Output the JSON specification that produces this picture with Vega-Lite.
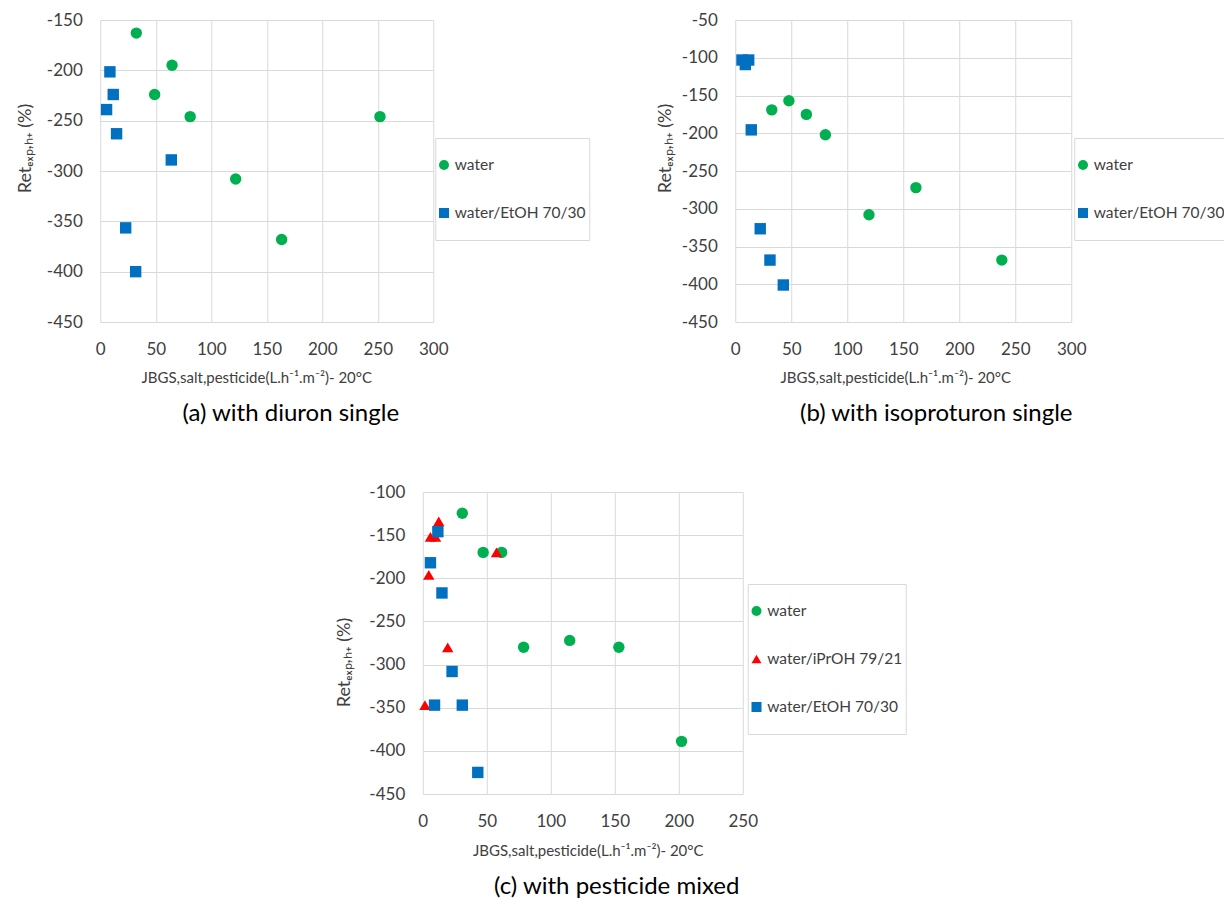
{
  "$schema": "https://vega.github.io/schema/vega-lite/v6.json",
  "background": "white",
  "padding": {"left": 16, "top": 11, "right": 0, "bottom": 0},
  "center": true,
  "spacing": 57,
  "config": {
    "font": "Lato",
    "view": {"stroke": null},
    "axis": {
      "labelFont": "Lato", "labelFontSize": 17, "labelColor": "#404040",
      "labelExpr": "toString(datum.value)", "labelFlush": false, "labelOverlap": false,
      "grid": true, "gridColor": "#D9D9D9", "gridWidth": 1,
      "domain": false, "ticks": false,
      "titleFont": "Lato", "titleFontWeight": "normal", "titleColor": "#404040"
    },
    "axisX": {"labelPadding": 19},
    "axisY": {"labelPadding": 18},
    "legend": {
      "orient": "none", "title": null, "padding": 3, "clipHeight": 48, "rowPadding": 0,
      "symbolSize": 100, "symbolOffset": -2, "labelOffset": 3,
      "labelFont": "Lato", "labelFontSize": 15.5, "labelColor": "#404040",
      "strokeColor": "#D9D9D9", "symbolStrokeWidth": 0
    },
    "title": {"font": "Lato", "fontSize": 24, "fontWeight": "normal", "color": "#000000", "orient": "bottom", "anchor": "middle", "offset": 17}
  },
  "resolve": {
    "scale": {"color": "independent", "shape": "independent", "x": "independent", "y": "independent"},
    "legend": {"color": "independent", "shape": "independent"}
  },
  "vconcat": [
    {
      "hconcat": [
        {
          "width": 333, "height": 302,
          "title": {"text": "(a) with diuron single", "dx": 24},
          "data": {"values": [
            {"J": 32.5, "Ret": -163, "series": "water"},
            {"J": 64.7, "Ret": -195, "series": "water"},
            {"J": 49, "Ret": -224, "series": "water"},
            {"J": 81, "Ret": -246, "series": "water"},
            {"J": 252, "Ret": -246, "series": "water"},
            {"J": 122, "Ret": -308, "series": "water"},
            {"J": 163.4, "Ret": -368, "series": "water"},
            {"J": 8.7, "Ret": -201.5, "series": "water/EtOH 70/30"},
            {"J": 11.7, "Ret": -224, "series": "water/EtOH 70/30"},
            {"J": 5.7, "Ret": -239, "series": "water/EtOH 70/30"},
            {"J": 14.7, "Ret": -263, "series": "water/EtOH 70/30"},
            {"J": 64, "Ret": -289, "series": "water/EtOH 70/30"},
            {"J": 22.9, "Ret": -356.5, "series": "water/EtOH 70/30"},
            {"J": 31.9, "Ret": -400, "series": "water/EtOH 70/30"}
          ]},
          "mark": {"type": "point", "filled": true, "opacity": 1, "size": 130},
          "encoding": {
            "x": {"field": "J", "type": "quantitative",
              "scale": {"domain": [0, 300], "nice": false, "zero": false},
              "axis": {"values": [0, 50, 100, 150, 200, 250, 300], "title": "JBGS,salt,pesticide(L.h⁻¹.m⁻²)- 20°C",
                "titleFontSize": 15, "titleX": 156, "titleY": 55, "titleBaseline": "middle", "titleAlign": "center"}},
            "y": {"field": "Ret", "type": "quantitative",
              "scale": {"domain": [-450, -150], "nice": false, "zero": false},
              "axis": {"values": [-450, -400, -350, -300, -250, -200, -150], "title": "Retₑₓₚ,ₕ₊ (%)",
                "titleFontSize": 18, "titleX": -75, "titleY": 128, "titleAngle": -90, "titleBaseline": "middle", "titleAlign": "center"}},
            "color": {"field": "series", "type": "nominal",
              "scale": {"domain": ["water", "water/EtOH 70/30"], "range": ["#00B050", "#0070C0"]},
              "legend": {"legendX": 335, "legendY": 118}},
            "shape": {"field": "series", "type": "nominal",
              "scale": {"domain": ["water", "water/EtOH 70/30"], "range": ["circle", "square"]},
              "legend": {"legendX": 335, "legendY": 118}}
          }
        },
        {
          "width": 336, "height": 302,
          "title": {"text": "(b) with isoproturon single", "dx": 33},
          "data": {"values": [
            {"J": 32.6, "Ret": -169, "series": "water"},
            {"J": 47.9, "Ret": -157, "series": "water"},
            {"J": 63.5, "Ret": -175, "series": "water"},
            {"J": 80.5, "Ret": -202, "series": "water"},
            {"J": 119.4, "Ret": -308, "series": "water"},
            {"J": 161.3, "Ret": -272, "series": "water"},
            {"J": 238, "Ret": -368, "series": "water"},
            {"J": 6, "Ret": -103, "series": "water/EtOH 70/30"},
            {"J": 12, "Ret": -103, "series": "water/EtOH 70/30"},
            {"J": 9, "Ret": -109, "series": "water/EtOH 70/30"},
            {"J": 14.3, "Ret": -195.5, "series": "water/EtOH 70/30"},
            {"J": 22.3, "Ret": -326.5, "series": "water/EtOH 70/30"},
            {"J": 31, "Ret": -368, "series": "water/EtOH 70/30"},
            {"J": 42.9, "Ret": -401, "series": "water/EtOH 70/30"}
          ]},
          "mark": {"type": "point", "filled": true, "opacity": 1, "size": 130},
          "encoding": {
            "x": {"field": "J", "type": "quantitative",
              "scale": {"domain": [0, 300], "nice": false, "zero": false},
              "axis": {"values": [0, 50, 100, 150, 200, 250, 300], "title": "JBGS,salt,pesticide(L.h⁻¹.m⁻²)- 20°C",
                "titleFontSize": 15, "titleX": 160, "titleY": 55, "titleBaseline": "middle", "titleAlign": "center"}},
            "y": {"field": "Ret", "type": "quantitative",
              "scale": {"domain": [-450, -50], "nice": false, "zero": false},
              "axis": {"values": [-450, -400, -350, -300, -250, -200, -150, -100, -50], "title": "Retₑₓₚ,ₕ₊ (%)",
                "titleFontSize": 18, "titleX": -70, "titleY": 128, "titleAngle": -90, "titleBaseline": "middle", "titleAlign": "center"}},
            "color": {"field": "series", "type": "nominal",
              "scale": {"domain": ["water", "water/EtOH 70/30"], "range": ["#00B050", "#0070C0"]},
              "legend": {"legendX": 339, "legendY": 118}},
            "shape": {"field": "series", "type": "nominal",
              "scale": {"domain": ["water", "water/EtOH 70/30"], "range": ["circle", "square"]},
              "legend": {"legendX": 339, "legendY": 118}}
          }
        }
      ],
      "spacing": 302,
      "bounds": "flush",
      "resolve": {
        "scale": {"color": "independent", "shape": "independent", "x": "independent", "y": "independent"},
        "legend": {"color": "independent", "shape": "independent"}
      }
    },
    {
      "width": 320, "height": 302,
      "title": {"text": "(c) with pesticide mixed", "dx": 34},
      "data": {"values": [
        {"J": 30.9, "Ret": -124.6, "series": "water"},
        {"J": 47.2, "Ret": -170, "series": "water"},
        {"J": 61.6, "Ret": -170, "series": "water"},
        {"J": 78.8, "Ret": -280, "series": "water"},
        {"J": 114.8, "Ret": -272, "series": "water"},
        {"J": 153.2, "Ret": -280, "series": "water"},
        {"J": 202.2, "Ret": -389, "series": "water"},
        {"J": 12.5, "Ret": -134, "series": "water/iPrOH 79/21"},
        {"J": 6, "Ret": -152, "series": "water/iPrOH 79/21"},
        {"J": 10, "Ret": -152, "series": "water/iPrOH 79/21"},
        {"J": 57.6, "Ret": -170, "series": "water/iPrOH 79/21"},
        {"J": 4.7, "Ret": -196, "series": "water/iPrOH 79/21"},
        {"J": 19.5, "Ret": -280, "series": "water/iPrOH 79/21"},
        {"J": 1.7, "Ret": -347, "series": "water/iPrOH 79/21"},
        {"J": 11.8, "Ret": -146, "series": "water/EtOH 70/30"},
        {"J": 6, "Ret": -182, "series": "water/EtOH 70/30"},
        {"J": 15, "Ret": -217, "series": "water/EtOH 70/30"},
        {"J": 22.9, "Ret": -308, "series": "water/EtOH 70/30"},
        {"J": 9.2, "Ret": -347, "series": "water/EtOH 70/30"},
        {"J": 30.9, "Ret": -347, "series": "water/EtOH 70/30"},
        {"J": 43, "Ret": -425, "series": "water/EtOH 70/30"}
      ]},
      "mark": {"type": "point", "filled": true, "opacity": 1, "size": 130},
      "encoding": {
        "x": {"field": "J", "type": "quantitative",
          "scale": {"domain": [0, 250], "nice": false, "zero": false},
          "axis": {"values": [0, 50, 100, 150, 200, 250], "title": "JBGS,salt,pesticide(L.h⁻¹.m⁻²)- 20°C",
            "titleFontSize": 15, "titleX": 165, "titleY": 56, "titleBaseline": "middle", "titleAlign": "center"}},
        "y": {"field": "Ret", "type": "quantitative",
          "scale": {"domain": [-450, -100], "nice": false, "zero": false},
          "axis": {"values": [-450, -400, -350, -300, -250, -200, -150, -100], "title": "Retₑₓₚ,ₕ₊ (%)",
            "titleFontSize": 18, "titleX": -78, "titleY": 170, "titleAngle": -90, "titleBaseline": "middle", "titleAlign": "center"}},
        "color": {"field": "series", "type": "nominal",
          "scale": {"domain": ["water", "water/iPrOH 79/21", "water/EtOH 70/30"], "range": ["#00B050", "#FF0000", "#0070C0"]},
          "legend": {"legendX": 325, "legendY": 92}},
        "shape": {"field": "series", "type": "nominal",
          "scale": {"domain": ["water", "water/iPrOH 79/21", "water/EtOH 70/30"], "range": ["circle", "triangle-up", "square"]},
          "legend": {"legendX": 325, "legendY": 92}}
      }
    }
  ]
}
